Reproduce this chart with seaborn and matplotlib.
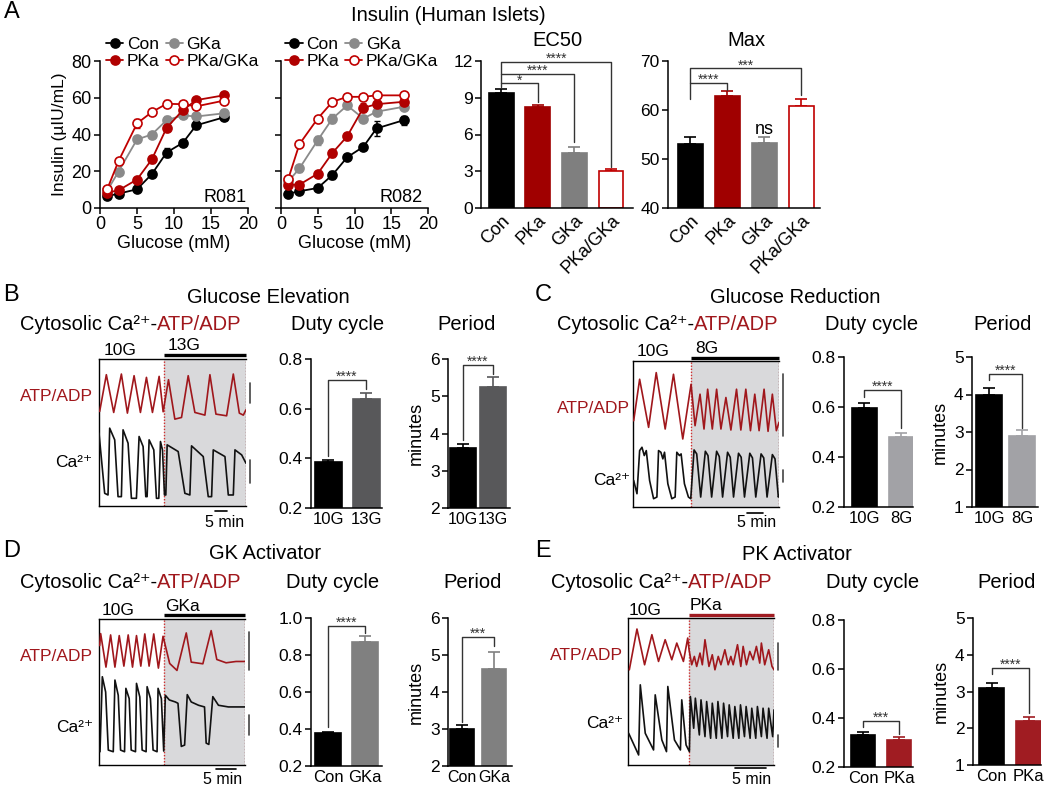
import numpy as np
import pandas as pd
import matplotlib
matplotlib.use("Agg")
import matplotlib.pyplot as plt
import seaborn as sns

# ---------------- data ----------------
glucose = [1, 2.5, 5, 7, 9, 11.2, 13, 16.7]
groups = ["Con", "PKa", "GKa", "PKa/GKa"]

con_081 = [6.5, 7.8, 10.2, 18.4, 30.2, 35.5, 45.0, 49.3]
con_081_err = [1.0, 0.8, 1.0, 1.5, 2.2, 1.5, 2.2, 1.5]
pka_081 = [8.4, 9.6, 15.5, 26.4, 43.6, 53.3, 58.7, 61.3]
pka_081_err = [1.0, 0.8, 1.0, 1.8, 1.8, 1.5, 1.2, 1.2]
gka_081 = [9.6, 19.8, 37.3, 40.0, 47.8, 50.4, 49.8, 51.5]
gka_081_err = [1.0, 1.2, 1.5, 1.5, 2.5, 1.5, 1.2, 2.2]
pkgk_081 = [10.5, 25.5, 46.0, 52.2, 56.7, 56.5, 55.3, 58.4]
pkgk_081_err = [1.0, 1.0, 2.5, 1.5, 2.0, 1.5, 1.2, 1.5]

con_082 = [7.8, 9.1, 10.9, 18.0, 27.6, 33.3, 43.3, 47.8]
con_082_err = [0.8, 1.0, 1.0, 2.0, 1.0, 1.0, 4.0, 2.5]
pka_082 = [12.7, 12.7, 18.7, 30.0, 39.0, 54.5, 56.5, 57.8]
pka_082_err = [1.0, 1.0, 1.0, 2.0, 1.8, 2.5, 2.0, 1.5]
gka_082 = [14.5, 21.5, 36.9, 48.7, 55.8, 48.7, 52.4, 55.1]
gka_082_err = [1.0, 2.0, 2.5, 2.5, 1.2, 2.0, 1.5, 1.2]
pkgk_082 = [16.0, 34.7, 48.7, 57.8, 60.5, 60.5, 61.3, 61.3]
pkgk_082_err = [1.0, 1.0, 1.0, 1.0, 1.0, 1.0, 1.0, 1.0]

ec50 = [9.4, 8.25, 4.5, 3.0]
ec50_err = [0.3, 0.18, 0.45, 0.16]
max_ins = [53.0, 62.8, 53.2, 60.9]
max_err = [1.5, 1.0, 1.3, 1.3]

B_cats = ["10G", "13G"]
B_duty = [0.385, 0.637]; B_duty_err = [0.01, 0.025]
B_period = [3.6, 5.25]; B_period_err = [0.12, 0.27]
C_cats = ["10G", "8G"]
C_duty = [0.595, 0.48]; C_duty_err = [0.02, 0.018]
C_period = [3.98, 2.89]; C_period_err = [0.2, 0.16]
D_cats = ["Con", "GKa"]
D_duty = [0.376, 0.87]; D_duty_err = [0.008, 0.035]
D_period = [3.0, 4.63]; D_period_err = [0.1, 0.45]
E_cats = ["Con", "PKa"]
E_duty = [0.33, 0.309]; E_duty_err = [0.012, 0.012]
E_period = [3.09, 2.21]; E_period_err = [0.13, 0.1]

# traces (time in frames, signal in a.u.)
B_atp_t = [2, 22, 44, 67, 85, 105, 124, 142, 160, 180, 192, 208, 227, 247, 267, 287, 317, 332, 350, 382, 402, 420, 432, 440]
B_atp_s = [283, 393, 280, 395, 278, 390, 280, 385, 280, 388, 282, 378, 260, 265, 390, 280, 272, 393, 275, 270, 395, 278, 272, 288]
B_ca_t = [0, 17, 27, 32, 47, 57, 67, 72, 87, 97, 112, 120, 132, 140, 144, 150, 164, 172, 179, 184,
          190, 196, 200, 204, 237, 257, 272, 277, 312, 327, 337, 342, 377, 387, 402, 407, 427, 440]
B_ca_s = [218, 38, 33, 233, 198, 28, 28, 228, 188, 23, 23, 208, 178, 28, 28, 198, 168, 23, 23, 193,
          168, 33, 33, 183, 163, 38, 33, 180, 148, 28, 28, 168, 148, 33, 33, 168, 153, 128]

C_atp_t = [2, 20, 47, 70, 97, 122, 150, 175, 187, 202, 214, 225, 239, 252, 265, 280, 295, 312, 325, 340, 354, 367, 380, 395, 407, 420, 432, 440]
C_atp_s = [260, 385, 240, 405, 235, 400, 205, 370, 245, 340, 235, 355, 235, 355, 235, 330, 232, 355, 232, 355, 230, 340, 230, 355, 228, 340, 230, 255]
C_ca_t = [2, 12, 20, 27, 34, 40, 50, 62, 72, 77, 84, 90, 95, 105, 117, 127, 132, 140, 145, 155, 167, 174,
          184, 192, 204, 218, 226, 237, 252, 260, 270, 285, 293, 303, 318, 326, 336, 352, 360, 370, 386, 394, 404, 420, 428, 438, 440]
C_ca_s = [80, 40, 170, 180, 155, 170, 80, 25, 30, 170, 165, 145, 165, 70, 25, 30, 165, 155, 160, 70, 30, 25,
          172, 160, 30, 168, 155, 30, 168, 152, 30, 165, 150, 30, 162, 150, 30, 162, 148, 30, 160, 148, 30, 158, 145, 30, 35]

D_atp_t = [2, 5, 21, 35, 48, 61, 75, 88, 101, 113, 126, 138, 151, 165, 179, 193, 213, 235, 263, 278, 313, 338, 355, 383, 413, 440]
D_atp_s = [360, 396, 295, 392, 295, 390, 298, 392, 295, 390, 298, 395, 298, 395, 292, 388, 306, 285, 398, 310, 305, 405, 318, 308, 312, 312]
D_ca_t = [3, 10, 20, 28, 43, 48, 58, 65, 77, 81, 91, 97, 110, 113, 123, 130, 142, 145, 155, 163,
          175, 178, 188, 195, 200, 212, 230, 238, 248, 258, 266, 278, 300, 318, 323, 331, 343, 360, 390, 439]
D_ca_s = [40, 266, 220, 45, 40, 256, 210, 45, 40, 231, 200, 45, 40, 246, 205, 45, 40, 236, 200, 45,
          40, 231, 200, 42, 210, 196, 190, 186, 56, 60, 212, 190, 180, 175, 66, 62, 206, 180, 175, 175]

E_atp_t = [4, 27, 50, 72, 92, 112, 132, 147, 167, 180, 184, 192, 200, 207, 217, 224, 232, 244, 254, 262,
           272, 280, 292, 302, 310, 317, 330, 340, 347, 357, 367, 377, 387, 397, 402, 412, 424, 434, 440]
E_atp_s = [285, 407, 300, 390, 310, 375, 315, 365, 310, 380, 345, 300, 325, 295, 335, 300, 375, 295, 330, 285,
           325, 300, 345, 300, 325, 300, 360, 295, 355, 300, 340, 315, 355, 305, 365, 300, 345, 295, 285]
E_ca_t = [2, 32, 37, 52, 77, 82, 102, 116, 120, 140, 158, 162, 175, 185, 188, 198, 203, 215, 220, 232,
          237, 249, 254, 266, 271, 283, 288, 300, 305, 317, 322, 334, 339, 351, 356, 368, 373, 385, 390, 402,
          407, 419, 424, 436, 440]
E_ca_s = [95, 30, 240, 95, 45, 210, 75, 40, 235, 75, 45, 195, 60, 40, 205, 110, 200, 90, 195, 85,
          190, 80, 185, 80, 190, 80, 185, 85, 180, 80, 175, 80, 180, 85, 175, 80, 170, 80, 175, 85,
          170, 80, 170, 85, 165]

# ---------------- style ----------------
sns.set_theme(style="ticks")
plt.rcParams.update({
    "font.family": ["Liberation Sans", "DejaVu Sans"],
    "mathtext.default": "regular",
    "axes.linewidth": 1.1, "axes.edgecolor": "black",
    "xtick.major.width": 1.1, "ytick.major.width": 1.1,
    "xtick.major.size": 4, "ytick.major.size": 4,
    "xtick.color": "black", "ytick.color": "black",
    "axes.labelcolor": "black", "text.color": "black",
    "xtick.direction": "out", "ytick.direction": "out",
})
RED = "#a0171c"
SHADE = "#d9d9db"
TICK_FS = 12.5
TITLE_FS = 14.5
CA = "Ca\u00b2\u207a"

W, H = 1050, 787
fig = plt.figure(figsize=(W / 100, H / 100), dpi=100)


def rect(l, t, r, b):
    return [l / W, 1 - b / H, (r - l) / W, (b - t) / H]


def ftext(x, y, s, **kw):
    fig.text(x / W, 1 - y / H, s, **kw)


def bracket(ax, x1, x2, ytop, yl, yr, label, fs=10, off=-3):
    ax.plot([x1, x1, x2, x2], [yl, ytop, ytop, yr], color="#333333", lw=1.0, clip_on=False)
    ax.annotate(label, xy=((x1 + x2) / 2, ytop), xytext=(0, off), textcoords="offset points",
                ha="center", va="bottom", fontsize=fs, color="#333333", annotation_clip=False)


def bar_panel(ax, cats, vals, errs, fills, edges, width, xlim, ylim, yticks, yticklabels=None, rot=0, xfs=12):
    sns.barplot(x=cats, y=vals, hue=cats, palette=fills, width=width, saturation=1,
                errorbar=None, legend=False, ax=ax, linewidth=1.2, zorder=2)
    for p, e in zip(ax.patches, edges):
        p.set_edgecolor(e)
    for i, (v, e, c) in enumerate(zip(vals, errs, edges)):
        ax.errorbar(i, v, yerr=[[0], [e]], fmt="none", ecolor=c, elinewidth=1.2,
                    capsize=4.5, capthick=1.2, zorder=1)
    ax.set_xlim(*xlim)
    ax.set_ylim(*ylim)
    ax.set_yticks(yticks)
    if yticklabels is not None:
        ax.set_yticklabels(yticklabels)
    ax.set_xticks(range(len(cats)))
    if rot:
        ax.set_xticklabels(cats, rotation=rot, ha="right", rotation_mode="anchor", fontsize=13)
    else:
        ax.set_xticklabels(cats, fontsize=xfs)
    ax.tick_params(axis="x", length=0, pad=3)
    ax.tick_params(axis="y", labelsize=TICK_FS, pad=2)
    ax.set_xlabel("")
    ax.set_ylabel("")
    sns.despine(ax=ax)


def trace_panel(ax, at, as_, ct, cs, switch, stim, stim_color, labels, scale, fivemin):
    ax.set_xlim(0, 440)
    ax.set_ylim(0, 440)
    ax.axvspan(switch, 440, color=SHADE, zorder=0, lw=0)
    ax.axvline(switch, color="#d03030", ls=(0, (1, 1.2)), lw=1.0, zorder=1)
    ax.axvline(439, color="#7a2a2a", ls=(0, (1, 1.2)), lw=1.0, zorder=1)
    sns.lineplot(x=at, y=as_, color=RED, lw=1.2, ax=ax, estimator=None, sort=False, zorder=3)
    sns.lineplot(x=ct, y=cs, color="#111111", lw=1.2, ax=ax, estimator=None, sort=False, zorder=3)
    for side in ["top", "left", "bottom"]:
        ax.spines[side].set_visible(True)
        ax.spines[side].set_linewidth(1.0)
    ax.spines["right"].set_visible(False)
    ax.set_xticks([]); ax.set_yticks([])
    ax.set_xlabel(""); ax.set_ylabel("")
    (g_x, g_y), (s_x, s_y), bar_y = stim[0], stim[1], stim[2]
    ax.text(g_x, g_y, "10G", ha="center", va="baseline", fontsize=TICK_FS, clip_on=False)
    ax.text(s_x, s_y, stim[3], ha="left", va="baseline", fontsize=TICK_FS, clip_on=False)
    ax.plot([switch, 440], [bar_y, bar_y], color=stim_color, lw=2.4, solid_capstyle="butt", clip_on=False)
    (ax_t, ax_s), (ca_t, ca_s) = labels
    ax.text(ax_t, ax_s, "ATP/ADP", ha="right", va="center", fontsize=TICK_FS, color=RED, clip_on=False)
    ax.text(ca_t, ca_s, CA, ha="right", va="center", fontsize=TICK_FS, clip_on=False)
    sx, (r1, r2), (k1, k2) = scale
    ax.plot([sx, sx], [r1, r2], color="#444444", lw=1.2, clip_on=False)
    ax.plot([sx, sx], [k1, k2], color="#444444", lw=1.2, clip_on=False)
    (f1, f2, fy), (tx, ty) = fivemin
    ax.plot([f1, f2], [fy, fy], color="black", lw=1.2, clip_on=False)
    ax.text(tx, ty, "5 min", ha="center", va="center", fontsize=11.5, clip_on=False)


def insulin_panel(ax, series, donor, donor_x, show_ylab, lx):
    for name, vals, errs, col, mfc in series:
        ax.errorbar(glucose, vals, yerr=errs, fmt="none", ecolor=col, elinewidth=1.1, capsize=2.5, zorder=2)
        sns.lineplot(x=glucose, y=vals, ax=ax, color=col, marker="o", markersize=6.5,
                     markerfacecolor=mfc, markeredgecolor=col, markeredgewidth=1.2, lw=1.3,
                     label=name, estimator=None, sort=False, zorder=3)
    ax.set_xlim(0, 20); ax.set_ylim(0, 80)
    ax.set_xticks([0, 5, 10, 15, 20]); ax.set_yticks([0, 20, 40, 60, 80])
    ax.tick_params(labelsize=13, pad=2)
    if not show_ylab:
        ax.set_yticklabels([])
        ax.set_ylabel("")
    else:
        ax.set_ylabel("Insulin (\u00b5IU/mL)", fontsize=12.5, labelpad=3)
    ax.set_xlabel("Glucose (mM)", fontsize=13, labelpad=1)
    ax.text(donor_x, 3.5, donor, ha="right", va="baseline", fontsize=13)
    sns.despine(ax=ax)
    h, l = ax.get_legend_handles_labels()
    d = dict(zip(l, h))
    order = ["Con", "PKa", "GKa", "PKa/GKa"]
    ax.legend([d[o] for o in order], order, ncol=2, loc="upper left", bbox_to_anchor=(lx, 1.165),
              frameon=False, fontsize=12.5, handlelength=1.0, handletextpad=0.2, columnspacing=0.35,
              labelspacing=0.12, borderaxespad=0, borderpad=0)


# ---------------- Panel A ----------------
ftext(4, 18, "A", fontsize=17, va="baseline")
ftext(448, 21, "Insulin (Human Islets)", fontsize=TITLE_FS, ha="center", va="baseline")

axA1 = fig.add_axes(rect(100, 61, 248, 208))
insulin_panel(axA1, [
    ("Con", con_081, con_081_err, "#000000", "#000000"),
    ("GKa", gka_081, gka_081_err, "#8a8a8a", "#8a8a8a"),
    ("PKa", pka_081, pka_081_err, "#b00000", "#b00000"),
    ("PKa/GKa", pkgk_081, pkgk_081_err, "#c00000", "white"),
], "R081", 19.8, True, 0.04)
axA2 = fig.add_axes(rect(281, 61, 428, 208))
insulin_panel(axA2, [
    ("Con", con_082, con_082_err, "#000000", "#000000"),
    ("GKa", gka_082, gka_082_err, "#8a8a8a", "#8a8a8a"),
    ("PKa", pka_082, pka_082_err, "#b00000", "#b00000"),
    ("PKa/GKa", pkgk_082, pkgk_082_err, "#c00000", "white"),
], "R082", 19.3, False, 0.03)

axEC = fig.add_axes(rect(481, 61, 633, 208))
bar_panel(axEC, groups, ec50, ec50_err, ["#000000", "#a00000", "#7f7f7f", "white"],
          ["#000000", "#a00000", "#7f7f7f", "#c00000"], 0.68, (-0.55, 3.6), (0, 12), [0, 3, 6, 9, 12], rot=45)
bracket(axEC, 0, 1, 10.17, 9.85, 8.67, "*")
bracket(axEC, 0, 2, 10.94, 10.17, 5.4, "****")
bracket(axEC, 0, 3, 11.95, 10.94, 3.35, "****")
ftext(557, 46, "EC50", fontsize=TITLE_FS, ha="center", va="baseline")

axMX = fig.add_axes(rect(668, 61, 820, 208))
bar_panel(axMX, groups, max_ins, max_err, ["#000000", "#a00000", "#7f7f7f", "white"],
          ["#000000", "#a00000", "#7f7f7f", "#c00000"], 0.68, (-0.6, 3.5), (40, 70), [40, 50, 60, 70], rot=45)
bracket(axMX, 0, 1, 65.6, 62.3, 64.1, "****")
bracket(axMX, 0, 3, 68.5, 65.6, 63.0, "***")
axMX.text(2, 55.0, "ns", ha="center", va="baseline", fontsize=13)
ftext(746, 46, "Max", fontsize=TITLE_FS, ha="center", va="baseline")


# ---------------- helper for rows ----------------
def headers(letter, lx, ly, title, tx, ty, split_x, cy, duty_x, period_x):
    ftext(lx, ly, letter, fontsize=17, va="baseline")
    ftext(tx, ty, title, fontsize=TITLE_FS, ha="center", va="baseline")
    ftext(split_x, cy, "Cytosolic " + CA + "-", fontsize=TITLE_FS, ha="right", va="baseline")
    ftext(split_x, cy, "ATP/ADP", fontsize=TITLE_FS, ha="left", va="baseline", color=RED)
    ftext(duty_x, cy, "Duty cycle", fontsize=TITLE_FS, ha="center", va="baseline")
    ftext(period_x, cy, "Period", fontsize=TITLE_FS, ha="center", va="baseline")


# ---------------- Panel B ----------------
headers("B", 3, 301, "Glucose Elevation", 268, 303, 157, 330, 338, 467)
axBt = fig.add_axes(rect(99, 359, 246, 506))
trace_panel(axBt, B_atp_t, B_atp_s, B_ca_t, B_ca_s, 194,
            [(62, 453), (204, 468), 453, "13G"], "black",
            [(-18, 327), (-21, 129)], (452, (308, 368), (68, 138)),
            ((347, 382, -15), (375, -48)))
axBd = fig.add_axes(rect(311, 359, 382, 508))
bar_panel(axBd, B_cats, B_duty, B_duty_err, ["#000000", "#58585a"], ["#000000", "#58585a"], 0.71,
          (-0.45, 1.42), (0.2, 0.8), [0.2, 0.4, 0.6, 0.8])
bracket(axBd, 0, 1, 0.715, 0.41, 0.68, "****")
axBp = fig.add_axes(rect(448, 359, 510, 508))
bar_panel(axBp, B_cats, B_period, B_period_err, ["#000000", "#58585a"], ["#000000", "#58585a"], 0.87,
          (-0.5, 1.57), (2, 6), [2, 3, 4, 5, 6], xfs=11.5)
bracket(axBp, 0, 1, 5.84, 3.82, 5.6, "****")
axBp.set_ylabel("minutes", fontsize=13, labelpad=4)

# ---------------- Panel C ----------------
headers("C", 535, 301, "Glucose Reduction", 795, 303, 694, 330, 872, 1003)
axCt = fig.add_axes(rect(633, 361, 779, 507))
trace_panel(axCt, C_atp_t, C_atp_s, C_ca_t, C_ca_s, 175,
            [(60, 455), (187, 465), 450, "8G"], "black",
            [(-9, 297), (-9, 81)], (452, (215, 400), (75, 110)),
            ((344, 392, -18), (372, -48)))
axCd = fig.add_axes(rect(844, 357, 913, 507))
bar_panel(axCd, C_cats, C_duty, C_duty_err, ["#000000", "#a2a2a6"], ["#000000", "#a2a2a6"], 0.68,
          (-0.56, 1.33), (0.2, 0.8), [0.2, 0.4, 0.6, 0.8])
bracket(axCd, 0, 1, 0.669, 0.639, 0.515, "****")
axCp = fig.add_axes(rect(972, 357, 1038, 507))
bar_panel(axCp, C_cats, C_period, C_period_err, ["#000000", "#a2a2a6"], ["#000000", "#a2a2a6"], 0.8,
          (-0.52, 1.48), (1, 5), [1, 2, 3, 4, 5])
bracket(axCp, 0, 1, 4.56, 4.4, 3.12, "****")
axCp.set_ylabel("minutes", fontsize=13, labelpad=4)

# ---------------- Panel D ----------------
headers("D", 3, 557, "GK Activator", 265, 559, 157, 588, 333, 473)
axDt = fig.add_axes(rect(99, 619, 245, 765))
trace_panel(axDt, D_atp_t, D_atp_s, D_ca_t, D_ca_s, 195,
            [(58, 451), (198, 464), 451, "GKa"], "black",
            [(-18, 327), (-18, 114)], (453, (286, 401), (91, 151)),
            ((353, 413, -12), (373, -44)))
axDd = fig.add_axes(rect(311, 618, 382, 766))
bar_panel(axDd, D_cats, D_duty, D_duty_err, ["#000000", "#808080"], ["#000000", "#808080"], 0.72,
          (-0.46, 1.46), (0.2, 1.0), [0.2, 0.4, 0.6, 0.8, 1.0], ["0.2", "0.4", "0.6", "0.8", "1.0"])
bracket(axDd, 0, 1, 0.958, 0.413, 0.919, "****")
axDp = fig.add_axes(rect(448, 618, 512, 766))
bar_panel(axDp, D_cats, D_period, D_period_err, ["#000000", "#808080"], ["#000000", "#808080"], 0.75,
          (-0.44, 1.56), (2, 6), [2, 3, 4, 5, 6], xfs=11.5)
bracket(axDp, 0, 1, 5.49, 3.2, 5.23, "***")
axDp.set_ylabel("minutes", fontsize=13, labelpad=4)

# ---------------- Panel E ----------------
headers("E", 535, 557, "PK Activator", 797, 560, 688, 588, 873, 1007)
axEt = fig.add_axes(rect(628, 618, 774, 765))
trace_panel(axEt, E_atp_t, E_atp_s, E_ca_t, E_ca_s, 184,
            [(52, 450), (187, 465), 450, "PKa"], "#a01c22",
            [(-15, 327), (-15, 123)], (452, (285, 365), (55, 90)),
            ((322, 417, -10), (372, -42)))
axEd = fig.add_axes(rect(844, 620, 913, 767))
bar_panel(axEd, E_cats, E_duty, E_duty_err, ["#000000", "#a01c22"], ["#000000", "#a01c22"], 0.68,
          (-0.53, 1.39), (0.2, 0.8), [0.2, 0.4, 0.6, 0.8])
bracket(axEd, 0, 1, 0.388, 0.364, 0.336, "***")
axEp = fig.add_axes(rect(973, 618, 1041, 765))
bar_panel(axEp, E_cats, E_period, E_period_err, ["#000000", "#a01c22"], ["#000000", "#a01c22"], 0.68,
          (-0.51, 1.33), (1, 5), [1, 2, 3, 4, 5])
bracket(axEp, 0, 1, 3.64, 3.48, 2.41, "****")
axEp.set_ylabel("minutes", fontsize=13, labelpad=4)

fig.savefig("out.png", dpi=100)
